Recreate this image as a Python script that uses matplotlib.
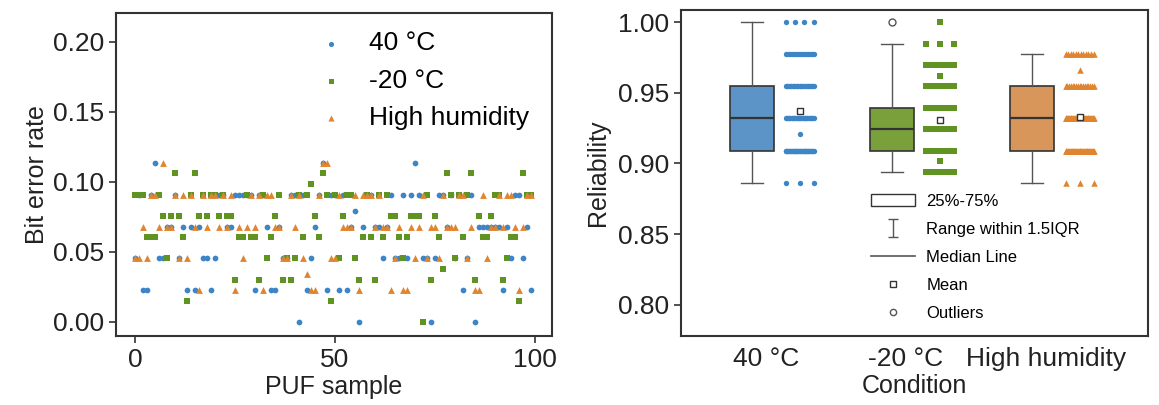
import numpy as np
import matplotlib
matplotlib.use('Agg')
import matplotlib.pyplot as plt
from matplotlib.patches import Patch
from matplotlib.lines import Line2D
from matplotlib.path import Path

plt.rcParams['font.family'] = ['Liberation Sans', 'DejaVu Sans']

conditions = ['40 °C', '-20 °C', 'High humidity']
sample = np.arange(100)

# bit error rate of every PUF sample, one list per test condition
ber_40C = [0.0455, 0.0909, 0.0227, 0.0227, 0.0909, 0.1136, 0.0455, 0.0455, 0.0682, 0.0682,
           0.0909, 0.0455, 0.0682, 0.0227, 0.0682, 0.0227, 0.0682, 0.0455, 0.0455, 0.0227,
           0.0455, 0.0909, 0.0909, 0.0682, 0.0682, 0.0909, 0.0909, 0.0909, 0.0909, 0.0909,
           0.0227, 0.0909, 0.0909, 0.0682, 0.0227, 0.0227, 0.0682, 0.0455, 0.0455, 0.0909,
           0.0909, 0.0, 0.0909, 0.0227, 0.0455, 0.0682, 0.0909, 0.1136, 0.0227, 0.0909,
           0.0909, 0.0227, 0.0909, 0.0227, 0.0682, 0.0795, 0.0, 0.0682, 0.0909, 0.0909,
           0.0682, 0.0682, 0.0455, 0.0682, 0.0909, 0.0455, 0.0455, 0.0909, 0.0455, 0.0909,
           0.1136, 0.0909, 0.0455, 0.0455, 0.0, 0.0455, 0.0909, 0.0909, 0.0682, 0.0909,
           0.0455, 0.0909, 0.0227, 0.0455, 0.0909, 0.0, 0.0682, 0.0682, 0.0682, 0.0682,
           0.0682, 0.0682, 0.0227, 0.0682, 0.0455, 0.0909, 0.0909, 0.0455, 0.0682, 0.0227]

ber_m20C = [0.0909, 0.0909, 0.0909, 0.0606, 0.0606, 0.0606, 0.0909, 0.0758, 0.0455, 0.0758,
            0.1061, 0.0758, 0.0606, 0.0152, 0.0909, 0.1061, 0.0758, 0.0909, 0.0758, 0.0909,
            0.0909, 0.0758, 0.0909, 0.0758, 0.0758, 0.0303, 0.0606, 0.0606, 0.0909, 0.0606,
            0.0606, 0.0303, 0.0909, 0.0455, 0.0606, 0.0758, 0.0909, 0.0303, 0.0455, 0.0303,
            0.0455, 0.0909, 0.0606, 0.0909, 0.0985, 0.0758, 0.0606, 0.1061, 0.0909, 0.0152,
            0.0909, 0.0455, 0.0758, 0.0909, 0.0909, 0.0455, 0.0303, 0.0606, 0.0909, 0.0606,
            0.0303, 0.0909, 0.0606, 0.0909, 0.0758, 0.0758, 0.0606, 0.0455, 0.0606, 0.0758,
            0.0758, 0.0758, 0.0, 0.0909, 0.0303, 0.0758, 0.0606, 0.0379, 0.1061, 0.0909,
            0.0455, 0.0909, 0.0606, 0.0909, 0.1061, 0.0303, 0.0758, 0.0606, 0.0606, 0.0758,
            0.0909, 0.0909, 0.0303, 0.0455, 0.0606, 0.0606, 0.0152, 0.1061, 0.0909, 0.0909]

ber_humid = [0.0455, 0.0455, 0.0682, 0.0455, 0.0909, 0.0909, 0.0682, 0.1136, 0.0682, 0.0682,
             0.0909, 0.0455, 0.0909, 0.0455, 0.0909, 0.0682, 0.0227, 0.0909, 0.0682, 0.0909,
             0.0909, 0.0682, 0.0909, 0.0682, 0.0909, 0.0227, 0.0682, 0.0455, 0.0682, 0.0909,
             0.0682, 0.0909, 0.0227, 0.0909, 0.0909, 0.0682, 0.0682, 0.0455, 0.0455, 0.0909,
             0.0682, 0.0909, 0.0455, 0.0341, 0.0227, 0.0227, 0.0909, 0.1136, 0.1136, 0.0455,
             0.0455, 0.0909, 0.0682, 0.0682, 0.0682, 0.0909, 0.0227, 0.0909, 0.0909, 0.0909,
             0.0682, 0.0909, 0.0682, 0.0682, 0.0227, 0.0455, 0.0682, 0.0227, 0.0227, 0.0682,
             0.0455, 0.0682, 0.0909, 0.0455, 0.0682, 0.0682, 0.0455, 0.0909, 0.0682, 0.0682,
             0.0682, 0.0909, 0.0909, 0.0455, 0.0682, 0.0227, 0.0227, 0.0909, 0.0455, 0.0682,
             0.0682, 0.0909, 0.0682, 0.0909, 0.0909, 0.0682, 0.0227, 0.0682, 0.0909, 0.0909]

ber = [np.array(ber_40C), np.array(ber_m20C), np.array(ber_humid)]
reliability = [1 - b for b in ber]

pt_colors = ['#3d85c6', '#5f9423', '#e0852f']
box_colors = ['#5c94c8', '#7aa03c', '#d9965a']
markers = ['o', 's', '^']
sizes = [17, 16, 24]

fig = plt.figure(figsize=(11.59, 4.05), dpi=100)

# ---- left: bit error rate per sample
ax1 = fig.add_axes([0.1001, 0.1704, 0.3762, 0.7975])
for b, c, m, s, lab in zip(ber, pt_colors, markers, sizes, conditions):
    ax1.scatter(sample, b, color=c, marker=m, s=s, linewidths=0, label=lab)
ax1.set_xlim(-4.75, 104.25)
ax1.set_ylim(-0.01, 0.2207)
ax1.set_xticks([0, 50, 100])
ax1.set_yticks([0.0, 0.05, 0.10, 0.15, 0.20])
ax1.set_yticklabels(['0.00', '0.05', '0.10', '0.15', '0.20'])
ax1.tick_params(labelsize=19, length=5, width=1.2, color='#333333', labelcolor='#222222')
ax1.set_xlabel('PUF sample', fontsize=18, color='#222222', labelpad=2)
ax1.set_ylabel('Bit error rate', fontsize=18, color='#222222', labelpad=3)
for sp in ax1.spines.values():
    sp.set_linewidth(1.5)
    sp.set_color('#333333')
ax1.legend(loc='upper left', bbox_to_anchor=(0.39, 1.0), frameon=False, fontsize=19,
           handletextpad=0.45, labelspacing=0.5, markerscale=0.9, borderaxespad=0.3)

# ---- right: reliability box plots with the raw points beside them
ax2 = fig.add_axes([0.5876, 0.1704, 0.4030, 0.8049])
pos = np.array([1, 2, 3])
bp = ax2.boxplot(reliability, positions=pos - 0.1, widths=0.31, patch_artist=True,
                 whis=1.5, manage_ticks=False,
                 boxprops=dict(linewidth=1.2, edgecolor='#333333'),
                 medianprops=dict(color='#333333', linewidth=1.6),
                 whiskerprops=dict(color='#555555', linewidth=1.0),
                 capprops=dict(color='#555555', linewidth=1.0),
                 flierprops=dict(marker='o', markerfacecolor='white',
                                 markeredgecolor='#555555', markersize=5))
for patch, c in zip(bp['boxes'], box_colors):
    patch.set_facecolor(c)

# points spread evenly across a narrow column, one row per value
for k, (r, c, m, s) in enumerate(zip(reliability, pt_colors, markers, sizes)):
    xs = np.zeros(len(r))
    for v in np.unique(r):
        idx = np.where(r == v)[0]
        if len(idx) > 1:
            xs[idx] = np.linspace(-0.1, 0.1, len(idx))
    ax2.scatter(pos[k] + 0.24 + xs, r, color=c, marker=m, s=s - 2, linewidths=0, zorder=3)
    ax2.scatter(pos[k] + 0.24, r.mean(), marker='s', s=24, facecolor='white',
                edgecolor='#333333', linewidths=1.0, zorder=4)

ax2.set_xlim(0.393, 3.73)
ax2.set_ylim(0.778, 1.0085)
ax2.set_xticks(pos)
ax2.set_xticklabels(conditions)
ax2.set_yticks([0.80, 0.85, 0.90, 0.95, 1.00])
ax2.set_yticklabels(['0.80', '0.85', '0.90', '0.95', '1.00'])
ax2.tick_params(labelsize=19, length=5, width=1.2, color='#333333', labelcolor='#222222')
ax2.tick_params(axis='x', length=0, pad=8)
ax2.set_xlabel('Condition', fontsize=18, color='#222222', labelpad=2)
ax2.set_ylabel('Reliability', fontsize=18, color='#222222', labelpad=6)
for sp in ax2.spines.values():
    sp.set_linewidth(1.5)
    sp.set_color('#333333')

ibeam = Path([(-0.5, 1), (0.5, 1), (0, 1), (0, -1), (-0.5, -1), (0.5, -1)],
             [Path.MOVETO, Path.LINETO, Path.MOVETO, Path.LINETO, Path.MOVETO, Path.LINETO])
handles = [Patch(facecolor='white', edgecolor='#333333', linewidth=1.0),
           Line2D([], [], linestyle='none', marker=ibeam, markersize=13,
                  markeredgecolor='#555555', markeredgewidth=1.0),
           Line2D([], [], color='#555555', linewidth=1.2),
           Line2D([], [], linestyle='none', marker='s', markersize=4.5,
                  markerfacecolor='white', markeredgecolor='#333333'),
           Line2D([], [], linestyle='none', marker='o', markersize=4.5,
                  markerfacecolor='white', markeredgecolor='#555555')]
labels = ['25%-75%', 'Range within 1.5IQR', 'Median Line', 'Mean', 'Outliers']
ax2.legend(handles, labels, loc='lower left', bbox_to_anchor=(0.375, 0.0), frameon=False,
           fontsize=12, handlelength=2.6, labelspacing=0.78, handletextpad=0.7)

fig.savefig('out.png', dpi=100)
